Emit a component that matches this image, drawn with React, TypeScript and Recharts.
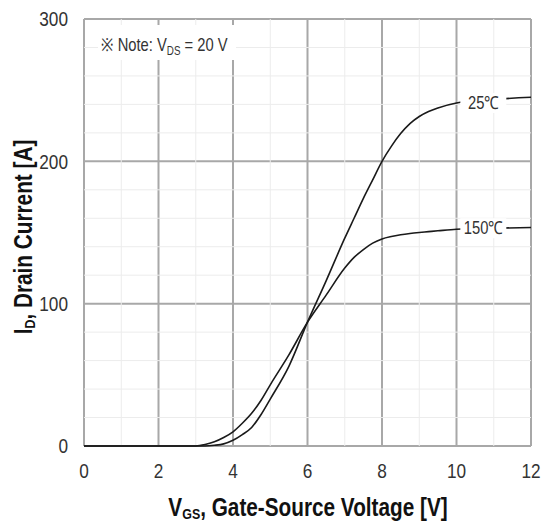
import React from "react";
import { LineChart, Line, XAxis, YAxis, CartesianGrid, ReferenceLine, ReferenceDot } from "recharts";

// gate-source voltage [V] and drain current [A]
const vgs = [0, 1, 2, 3, 3.25, 3.5, 3.75, 4, 4.25, 4.5, 4.75, 5, 5.5, 6, 6.5, 7, 7.25, 7.5, 7.75, 8, 8.25, 8.5, 8.75, 9, 9.25, 9.5, 10, 11, 12];
const id25 = [0, 0, 0, 0, 0, 0.5, 1.5, 4, 8, 13, 22, 33, 56, 87, 116, 146, 160, 174, 187, 200, 210.5, 219.5, 226.5, 231.5, 235, 237.5, 241, 243.5, 245];
const id150 = [0, 0, 0, 0, 1, 3, 6, 10, 16, 23, 32, 43, 64, 87, 106, 125, 132.5, 138, 142.5, 145.5, 147.2, 148.4, 149.3, 150, 150.6, 151.2, 152.3, 153, 153.5];

const xTicks = [0, 2, 4, 6, 8, 10, 12];
const yTicks = [0, 100, 200, 300];
const xMinor = [1, 3, 5, 7, 9, 11];
const yMinor = [20, 40, 60, 80, 120, 140, 160, 180, 220, 240, 260, 280];

const tempLabels = [
  { text: "25℃", v: 10.72, i: 241 },
  { text: "150℃", v: 10.72, i: 153 },
];

const data = vgs.map((v, idx) => ({ vgs: v, t25: id25[idx], t150: id150[idx] }));

const FONT = "'Liberation Sans', Arial, sans-serif";
const NARROW = 0.82; // the original uses a condensed face

function XTick(props: any) {
  const { x, y, payload } = props;
  return (
    <g transform={`translate(${x},${y})`}>
      <text transform={`scale(${NARROW},1)`} textAnchor="middle" dy="0.71em" fontSize={21} fill="#333" fontFamily={FONT}>
        {payload.value}
      </text>
    </g>
  );
}

function YTick(props: any) {
  const { x, y, payload } = props;
  return (
    <g transform={`translate(${x},${y})`}>
      <text transform={`scale(${NARROW},1)`} textAnchor="end" dy="0.355em" fontSize={21} fill="#333" fontFamily={FONT}>
        {payload.value}
      </text>
    </g>
  );
}

function TempLabel(props: any) {
  const { viewBox, text } = props;
  const cx = viewBox.x + (viewBox.width || 0) / 2;
  const cy = viewBox.y + (viewBox.height || 0) / 2;
  return (
    <g transform={`translate(${cx},${cy})`}>
      <rect x={-23} y={-10} width={46} height={20} fill="#fff" />
      <text transform={`scale(${NARROW},1)`} y={6} textAnchor="middle" fontSize={18} fill="#333" fontFamily={FONT}>
        {text}
      </text>
    </g>
  );
}

export default function App() {
  return (
    <div style={{ position: "absolute", left: 0, top: 0, width: 542, height: 521, background: "#fff" }}>
      <LineChart width={542} height={521} data={data} margin={{ top: 19, right: 11, bottom: 0, left: 0 }}>
        {xMinor.map((v) => (
          <ReferenceLine key={`vx${v}`} x={v} stroke="#ececec" strokeWidth={1} />
        ))}
        {yMinor.map((v) => (
          <ReferenceLine key={`hy${v}`} y={v} stroke="#ececec" strokeWidth={1} />
        ))}
        <CartesianGrid stroke="#a8a8a8" strokeWidth={2} />
        <XAxis
          type="number"
          dataKey="vgs"
          domain={[0, 12]}
          ticks={xTicks}
          height={75}
          tickSize={0}
          tickMargin={17}
          axisLine={false}
          tick={<XTick />}
        />
        <YAxis
          type="number"
          domain={[0, 300]}
          ticks={yTicks}
          width={84}
          tickSize={0}
          tickMargin={16}
          axisLine={false}
          tick={<YTick />}
        />
        <Line dataKey="t25" type="monotone" stroke="#1a1a1a" strokeWidth={1.6} dot={false} isAnimationActive={false} />
        <Line dataKey="t150" type="monotone" stroke="#1a1a1a" strokeWidth={1.6} dot={false} isAnimationActive={false} />
        {tempLabels.map((l) => (
          <ReferenceDot
            key={l.text}
            x={l.v}
            y={l.i}
            r={0}
            stroke="none"
            fill="none"
            label={(p: any) => <TempLabel {...p} text={l.text} />}
          />
        ))}
      </LineChart>
      <svg width={542} height={521} style={{ position: "absolute", left: 0, top: 0, pointerEvents: "none" }}>
        <rect x={98} y={25} width={138} height={35} fill="#fff" />
        <text transform={`translate(101,51) scale(${NARROW},1)`} fontSize={18} fill="#333" fontFamily={FONT}>
          ※ Note: V
          <tspan fontSize={12} dy={4}>DS</tspan>
          <tspan dy={-4}> = 20 V</tspan>
        </text>
        <text
          transform={`translate(308,516) scale(0.83,1)`}
          textAnchor="middle"
          fontSize={25}
          fontWeight="bold"
          fill="#111"
          fontFamily={FONT}
        >
          V<tspan fontSize={15} dy={3}>GS</tspan>
          <tspan dy={-3}>, Gate-Source Voltage [V]</tspan>
        </text>
        <text
          transform="translate(32,237) rotate(-90) scale(0.83,1)"
          textAnchor="middle"
          fontSize={25}
          fontWeight="bold"
          fill="#111"
          fontFamily={FONT}
        >
          I<tspan fontSize={15} dy={3}>D</tspan>
          <tspan dy={-3}>, Drain Current [A]</tspan>
        </text>
      </svg>
    </div>
  );
}
